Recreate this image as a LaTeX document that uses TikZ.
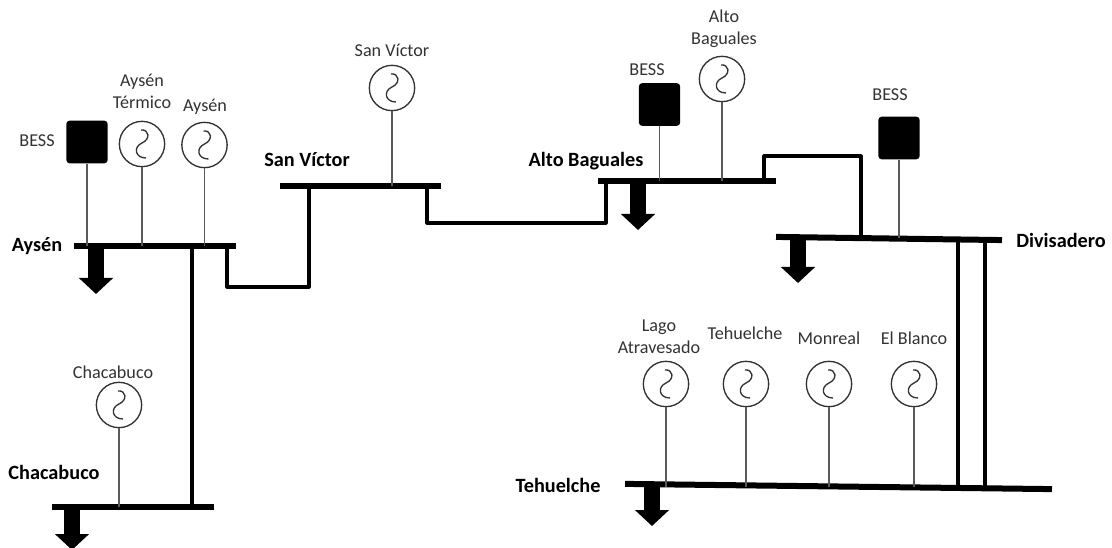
\documentclass[tikz,border=0pt]{standalone}
\usepackage{fontspec}
\setmainfont{Carlito}
\usetikzlibrary{calc, positioning, arrows.meta}
\definecolor{stemgray}{RGB}{90, 90, 90}
\definecolor{labelgray}{RGB}{50, 50, 50}
\tikzset{
  bus/.style={fill=black, inner sep=0pt, minimum height=4.5pt, minimum width=#1*0.75pt},
  stem/.style={stemgray, line width=1.1pt},
  link/.style={black, line width=2.3pt, line cap=round, line join=round},
  loadarrow/.style={black, line width=12pt, -{Triangle[length=12pt, width=25pt]}},
  bess/.style={fill=black, rounded corners=2.5pt, inner sep=0pt, minimum width=31pt, minimum height=32pt},
  gen/.style={circle, draw=labelgray, fill=white, line width=1pt, inner sep=0pt, minimum size=34pt,
    path picture={
      \draw[labelgray, line width=1pt, shift={(path picture bounding box.center)}]
        (-1,-14) .. controls (7,-15) and (9,-5) .. (0,-1)
        .. controls (-9,3) and (-7,14) .. (4,14);
    }},
  lbl/.style={labelgray, font=\fontsize{13.6}{16.5}\selectfont, align=center, inner sep=0pt},
  buslbl/.style={black, font=\fontsize{15.2}{18}\selectfont\bfseries, inner sep=0pt}
}
\begin{document}
\begin{tikzpicture}[x=0.75pt, y=-0.75pt]
  \useasboundingbox (0,0) rectangle (1112,548);
  % buses
  \node[bus=162] (aysen) at (155,246) {};
  \node[bus=161] (sanvictor) at (360.5,186) {};
  \node[bus=178] (alto) at (687,181) {};
  \node[bus=226, rotate=-0.8] (divisadero) at (889,238.5) {};
  \node[bus=427, rotate=-0.7] (tehuelche) at (838.5,486.5) {};
  \node[bus=162] (chacabuco) at (133,507) {};
  % bus names
  \node[buslbl] (aysenname) at (37,246) {Aysén};
  \node[buslbl] (sanvictorname) at (307,160) {San Víctor};
  \node[buslbl] (altoname) at (586,161) {Alto Baguales};
  \node[buslbl] (divisaderoname) at (1061,240) {Divisadero};
  \node[buslbl] (tehuelchename) at (558,485) {Tehuelche};
  \node[buslbl] (chacabuconame) at (54,472) {Chacabuco};
  % batteries
  \node[bess] (bessa) at (87,142) {};
  \node[bess] (bessb) at (659.5,104.5) {};
  \node[bess] (bessc) at (899,138) {};
  \node[lbl] (bessalbl) at (37,141) {BESS};
  \node[lbl] (bessblbl) at (647,70) {BESS};
  \node[lbl] (bessclbl) at (890,95) {BESS};
  % generators
  \node[gen] (termico) at (142,144) {};
  \node[gen] (gaysen) at (204.5,145) {};
  \node[gen] (gsanvictor) at (392,88) {};
  \node[gen] (galto) at (722,79) {};
  \node[gen] (glago) at (666,384) {};
  \node[gen] (gtehuelche) at (746,384) {};
  \node[gen] (gmonreal) at (829,384) {};
  \node[gen] (gblanco) at (914,384) {};
  \node[gen] (gchacabuco) at (119,405) {};
  \node[lbl] (termicolbl) at (142,91) {Aysén\\Térmico};
  \node[lbl] (gaysenlbl) at (205,107) {Aysén};
  \node[lbl] (gsanvictorlbl) at (392,50) {San Víctor};
  \node[lbl] (galtolbl) at (724,28.5) {Alto\\Baguales};
  \node[lbl] (glagolbl) at (659,337) {Lago\\Atravesado};
  \node[lbl] (gtehuelchelbl) at (745,333) {Tehuelche};
  \node[lbl] (gmonreallbl) at (829,338) {Monreal};
  \node[lbl] (gblancolbl) at (914,338) {El Blanco};
  \node[lbl] (gchacabucolbl) at (113,372) {Chacabuco};
  % stems
  \draw[stem] (bessa.south) -- (bessa.south |- aysen.center);
  \draw[stem] (termico.south) -- (termico.south |- aysen.center);
  \draw[stem] (gaysen.south) -- (gaysen.south |- aysen.center);
  \draw[stem] (gsanvictor.south) -- (gsanvictor.south |- sanvictor.center);
  \draw[stem] (bessb.south) -- (bessb.south |- alto.center);
  \draw[stem] (galto.south) -- (galto.south |- alto.center);
  \draw[stem] (bessc.south) -- (bessc.south |- divisadero.center);
  \draw[stem] (glago.south) -- (glago.south |- tehuelche.center);
  \draw[stem] (gtehuelche.south) -- (gtehuelche.south |- tehuelche.center);
  \draw[stem] (gmonreal.south) -- (gmonreal.south |- tehuelche.center);
  \draw[stem] (gblanco.south) -- (gblanco.south |- tehuelche.center);
  \draw[stem] (gchacabuco.south) -- (gchacabuco.south |- chacabuco.center);
  % lines between buses
  \coordinate (ab) at (227,287);
  \coordinate (ac) at (309,287);
  \coordinate (sa) at (427,223);
  \coordinate (sb) at (606,223);
  \coordinate (da) at (764,156);
  \coordinate (db) at (861,156);
  \coordinate (ca) at (192,0);
  \coordinate (ta) at (958,0);
  \coordinate (tb) at (985,0);
  \draw[link] (ab |- aysen.center) -- (ab) -- (ac) -- (ac |- sanvictor.center);
  \draw[link] (sa |- sanvictor.center) -- (sa) -- (sb) -- (sb |- alto.center);
  \draw[link] (da |- alto.center) -- (da) -- (db) -- (db |- divisadero.center);
  \draw[link] (ca |- aysen.center) -- (ca |- chacabuco.center);
  \draw[link] (ta |- divisadero.center) -- (ta |- tehuelche.center);
  \draw[link] (tb |- divisadero.center) -- (tb |- tehuelche.center);
  % loads
  \coordinate (la) at (96,294);
  \coordinate (lb) at (638,230);
  \coordinate (lc) at (798,283);
  \coordinate (ld) at (652,526);
  \coordinate (le) at (72,550);
  \draw[loadarrow] (la |- aysen.center) -- (la);
  \draw[loadarrow] (lb |- alto.center) -- (lb);
  \draw[loadarrow] (lc |- divisadero.center) -- (lc);
  \draw[loadarrow] (ld |- tehuelche.center) -- (ld);
  \draw[loadarrow] (le |- chacabuco.center) -- (le);
\end{tikzpicture}
\end{document}
